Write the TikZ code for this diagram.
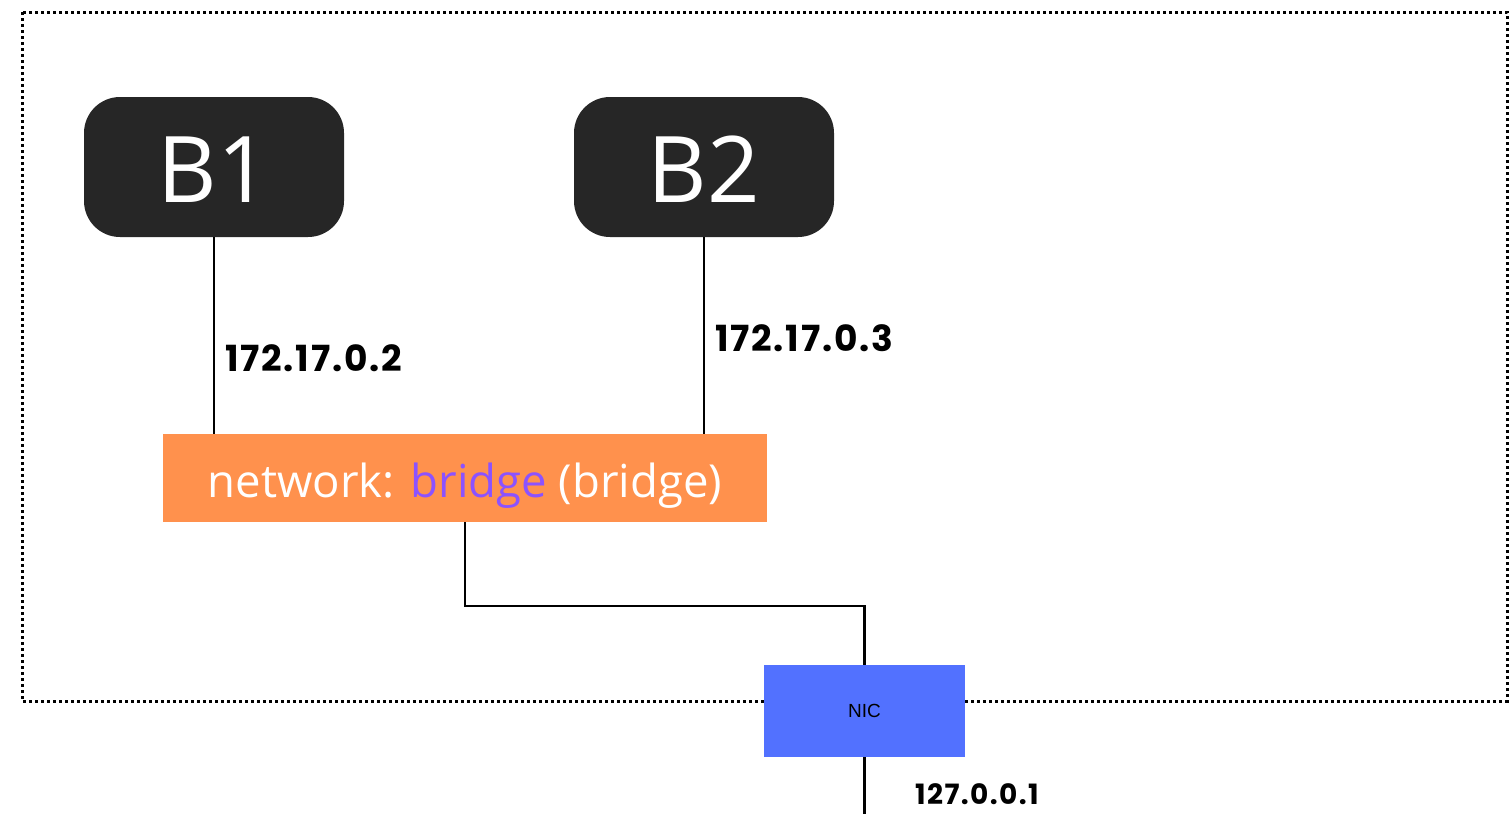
\documentclass[tikz,border=0pt]{standalone}
\usepackage{fontspec}
\setmainfont{Open Sans}
\newfontfamily\labelfont[LetterSpace=5]{Poppins}
\newfontfamily\nicfont{Liberation Sans}
\usetikzlibrary{positioning}
\definecolor{hostgray}{HTML}{262626}
\definecolor{netorange}{HTML}{FF914D}
\definecolor{netpurple}{HTML}{8C52FF}
\definecolor{nicblue}{HTML}{5271FF}
\tikzset{
  hostbox/.style={fill=hostgray, rounded corners=36pt, minimum width=260pt, minimum height=140pt,
    inner sep=0pt, text height=70pt, text depth=0pt, text=white, font=\fontsize{92}{100}\selectfont},
  netbox/.style={fill=netorange, minimum width=604pt, minimum height=88pt, inner sep=0pt,
    text height=38pt, text depth=0pt, text=white, font=\fontsize{45.5}{52}\selectfont},
  nicbox/.style={fill=nicblue, minimum width=201pt, minimum height=92pt, inner sep=0pt,
    font=\nicfont\fontsize{19}{22}\selectfont},
  iplabel/.style={anchor=west, inner sep=0pt, font=\labelfont\bfseries\fontsize{36}{42}\selectfont},
  wire/.style={line width=2.5pt}
}
\begin{document}
\begin{tikzpicture}[x=1pt,y=-1pt]
            \useasboundingbox (0,0) rectangle (1510,814);
            \draw[line width=3pt, dash pattern=on 3pt off 3pt] (22,12) rectangle (1507,701); % host
            \node[hostbox] (b1) at (214,167) {B1};
            \node[hostbox] (b2) at (704,167) {B2};
            \node[netbox] (bridge) at (465,478) {network: \textcolor{netpurple}{bridge} (bridge)};
            \node[nicbox] (nic) at (864.5,711) {NIC};
            \coordinate (out) at (864.5,814);
            \draw[wire] (b1.south) -- (b1.south |- bridge.north);
            \draw[wire] (b2.south) -- (b2.south |- bridge.north);
            \draw[wire] (bridge.south) -- ++(0,84) -| (nic.north);
            \draw[wire] (nic.south) -- (out);
            \node[iplabel] (ip1) at (225,358) {172.17.0.2};
            \node[iplabel] (ip2) at (715,338) {172.17.0.3};
            \node[iplabel, font=\labelfont\bfseries\fontsize{28}{34}\selectfont] (ip3) at (915,794) {127.0.0.1};
\end{tikzpicture}
\end{document}
